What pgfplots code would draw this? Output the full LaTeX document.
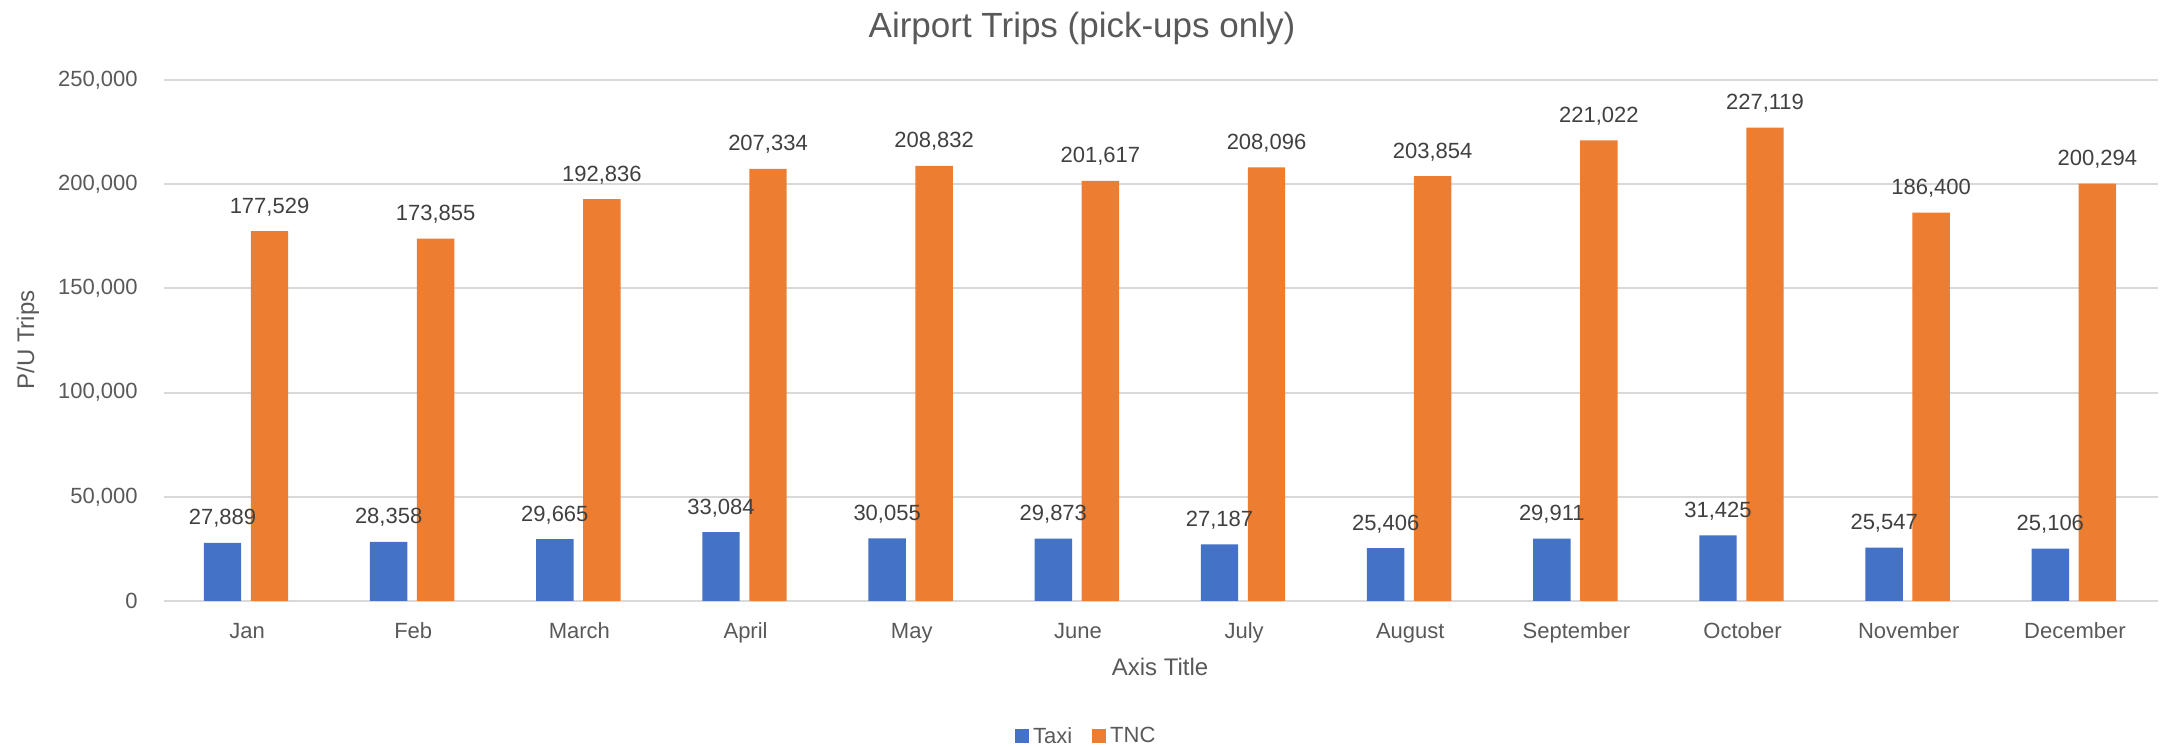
\documentclass[border=0pt]{standalone}
\usepackage{pgfplots}
\pgfplotsset{compat=1.18}
\usepackage{pgfplotstable}
\usepackage{fontspec}
\setmainfont{Liberation Sans}
\definecolor{taxi}{HTML}{4472C4}
\definecolor{tnc}{HTML}{ED7D31}
\definecolor{gridc}{HTML}{D9D9D9}
\definecolor{txt}{HTML}{595959}
\definecolor{lbl}{HTML}{404040}
\pgfplotstableread{
x taxi taxil tnc tncl
0 27889 27,889 177529 177,529
1 28358 28,358 173855 173,855
2 29665 29,665 192836 192,836
3 33084 33,084 207334 207,334
4 30055 30,055 208832 208,832
5 29873 29,873 201617 201,617
6 27187 27,187 208096 208,096
7 25406 25,406 203854 203,854
8 29911 29,911 221022 221,022
9 31425 31,425 227119 227,119
10 25547 25,547 186400 186,400
11 25106 25,106 200294 200,294
}\data
\begin{document}
\begin{tikzpicture}
\useasboundingbox (-82pt,-73pt) rectangle (1000.5pt,300.5pt);
\begin{axis}[
  scale only axis, width=997pt, height=260.5pt,
  xmin=-0.5, xmax=11.5, ymin=0, ymax=250000,
  ybar, bar width=0.225,
  scaled y ticks=false,
  xtick={0,...,11},
  xticklabels={Jan,Feb,March,April,May,June,July,August,September,October,November,December},
  ytick={0,50000,100000,150000,200000,250000},
  yticklabels={0,{50,000},{100,000},{150,000},{200,000},{250,000}},
  ymajorgrids, grid style={draw=gridc, line width=1pt},
  axis x line*=bottom, axis y line*=left,
  x axis line style={draw=gridc, line width=1pt, -},
  y axis line style={draw=none},
  tick style={draw=none},
  ticklabel style={font=\fontsize{11pt}{13pt}\selectfont, text=txt},
  yticklabel style={anchor=east, inner sep=0pt, xshift=-13pt},
  xticklabel style={anchor=base, inner sep=0pt, yshift=-14.5pt},
  point meta=explicit symbolic,
  nodes near coords,
  every node near coord/.append style={font=\fontsize{11pt}{13pt}\selectfont, text=lbl, anchor=base, inner sep=0pt, yshift=9pt},
  legend columns=2,
  legend style={draw=none, fill=none, at={(axis description cs:0.463,-0.287)}, anchor=south,
    font=\fontsize{11pt}{13pt}\selectfont, text=txt, inner sep=0pt,
    /tikz/every even column/.append style={column sep=8pt}},
  legend image code/.code={\fill[#1] (0pt,-3.3pt) rectangle (7pt,3.7pt);},
]
\addplot[fill=taxi, draw=none, bar shift=-0.148] table[x=x, y=taxi, meta=taxil] {\data};
\addplot[fill=tnc, draw=none, bar shift=0.135] table[x=x, y=tnc, meta=tncl] {\data};
\legend{Taxi, TNC}
\end{axis}
\node[font=\fontsize{17.5pt}{21pt}\selectfont, text=txt] at (459pt,286.5pt) {Airport Trips (pick-ups only)};
\node[font=\fontsize{12pt}{14pt}\selectfont, text=txt, rotate=90] at (-68pt,130.5pt) {P/U Trips};
\node[font=\fontsize{12pt}{14pt}\selectfont, text=txt, anchor=base] at (498pt,-37.5pt) {Axis Title};
\end{tikzpicture}
\end{document}
